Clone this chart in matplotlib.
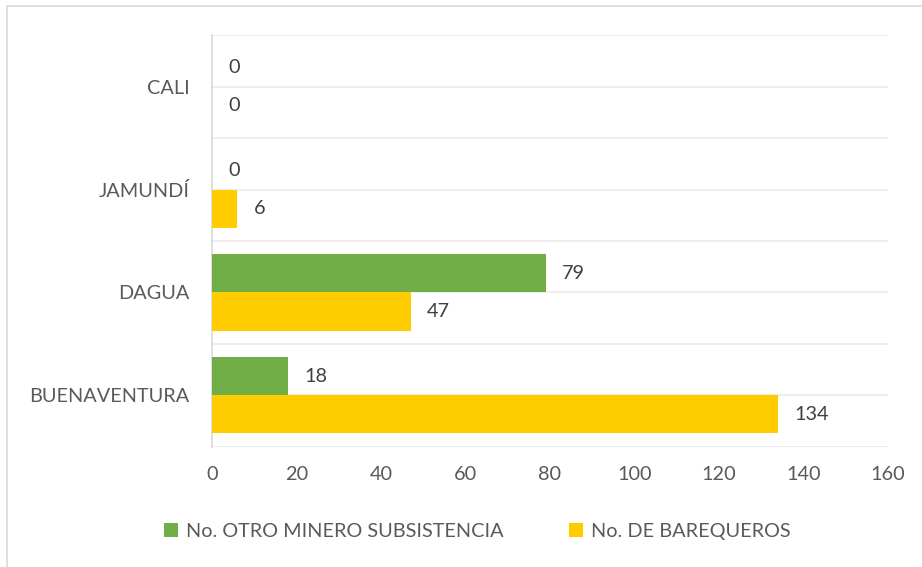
import numpy as np
import matplotlib.pyplot as plt
from matplotlib.patches import Rectangle

# municipios (bottom to top) and counts per category
municipios = ["BUENAVENTURA", "DAGUA", "JAMUNDÍ", "CALI"]
otro_minero = [18, 79, 0, 0]
barequeros = [134, 47, 6, 0]
serie_labels = ["No. OTRO MINERO SUBSISTENCIA", "No. DE BAREQUEROS"]
x_ticks = [0, 20, 40, 60, 80, 100, 120, 140, 160]

verde = "#70AD47"
amarillo = "#FFCC00"
gris = "#595959"

plt.rcParams["font.family"] = ["Lato", "DejaVu Sans"]
fs = 14.3

fig = plt.figure(figsize=(9.22, 5.67), dpi=100)
ax = fig.add_axes([0.230, 0.212, 0.733, 0.726])

y = np.arange(len(municipios))
h = 0.37
b1 = ax.barh(y + h / 2, otro_minero, height=h, color=verde, label=serie_labels[0], zorder=3)
b2 = ax.barh(y - h / 2, barequeros, height=h, color=amarillo, label=serie_labels[1], zorder=3)

# value labels just past the end of each bar
for bars, vals in [(b1, otro_minero), (b2, barequeros)]:
    for bar, v in zip(bars, vals):
        ax.annotate(str(v), (v, bar.get_y() + bar.get_height() / 2),
                    xytext=(16, 0), textcoords="offset pixels",
                    ha="left", va="center", fontsize=fs, color="#404040")

ax.set_xlim(0, 160)
ax.set_ylim(-0.5, len(municipios) - 0.5)
ax.set_xticks(x_ticks)
ax.set_yticks(y)
ax.set_yticklabels(municipios)
ax.tick_params(axis="both", length=0, labelsize=fs, labelcolor=gris)
ax.tick_params(axis="x", pad=14)
ax.tick_params(axis="y", pad=16)

# horizontal rules every half step
for g in np.arange(-0.5, len(municipios), 0.5):
    ax.axhline(g, color="#EBEBEB", lw=1.2, zorder=1)

for s in ["top", "right", "bottom"]:
    ax.spines[s].set_visible(False)
ax.spines["left"].set_color("#D9D9D9")
ax.spines["left"].set_linewidth(1.2)

leg = fig.legend(handles=[b1, b2], loc="center", bbox_to_anchor=(0.518, 0.062), ncol=2,
                 frameon=False, fontsize=fs, handlelength=0.7, handleheight=0.7,
                 columnspacing=3.3, handletextpad=0.4)
for t in leg.get_texts():
    t.set_color(gris)

# light frame around the whole chart
fig.patches.append(Rectangle((0.008, -0.01), 1.0, 1.0, transform=fig.transFigure,
                             fill=False, edgecolor="#D9D9D9", lw=1.2))

fig.savefig("out.png", dpi=100)
